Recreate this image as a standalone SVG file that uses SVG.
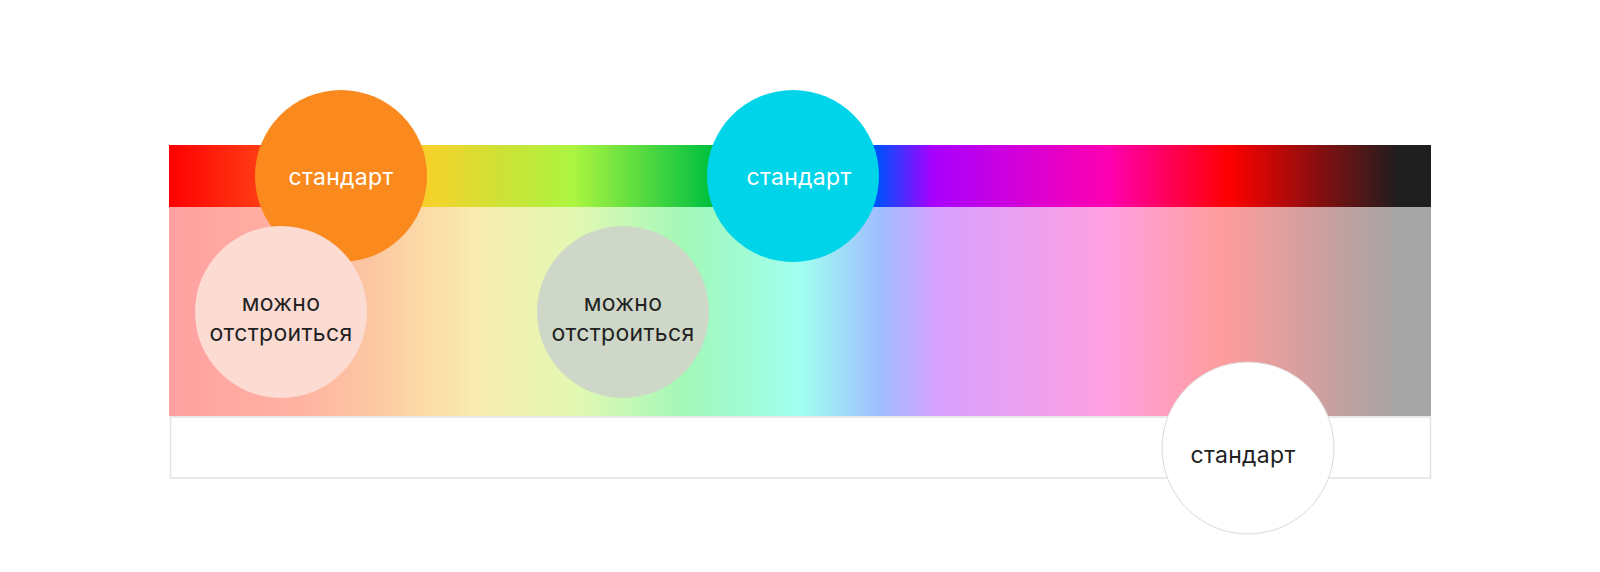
<svg xmlns="http://www.w3.org/2000/svg" width="1600" height="572" viewBox="0 0 1600 572">
<style>
.lbl{font-family:Inter,"Noto Sans",sans-serif;font-size:23px;text-anchor:middle;letter-spacing:0.3px}
.w{fill:#ffffff}
.d{fill:#222222}
</style>
<defs>
<linearGradient id="top" gradientUnits="userSpaceOnUse" x1="169" y1="0" x2="1431" y2="0">
<stop offset="0" stop-color="#ff0000"/>
<stop offset="0.07" stop-color="#ff3a14"/>
<stop offset="0.14" stop-color="#fb8a1e"/>
<stop offset="0.205" stop-color="#f6d22a"/>
<stop offset="0.265" stop-color="#cde236"/>
<stop offset="0.32" stop-color="#acf540"/>
<stop offset="0.43" stop-color="#00c040"/>
<stop offset="0.5" stop-color="#00d7e8"/>
<stop offset="0.562" stop-color="#0050ff"/>
<stop offset="0.605" stop-color="#a800ff"/>
<stop offset="0.745" stop-color="#ff00b0"/>
<stop offset="0.84" stop-color="#ff0000"/>
<stop offset="0.915" stop-color="#801010"/>
<stop offset="0.975" stop-color="#1e1e1e"/>
<stop offset="1" stop-color="#1e1e1e"/>
</linearGradient>
<linearGradient id="bot" gradientUnits="userSpaceOnUse" x1="169" y1="0" x2="1431" y2="0">
<stop offset="0" stop-color="#ffa0a0"/>
<stop offset="0.1" stop-color="#ffb2a2"/>
<stop offset="0.165" stop-color="#fcc8a2"/>
<stop offset="0.215" stop-color="#fbe0a8"/>
<stop offset="0.245" stop-color="#f8ecb0"/>
<stop offset="0.32" stop-color="#e4f8b2"/>
<stop offset="0.41" stop-color="#a2f8b8"/>
<stop offset="0.5" stop-color="#a0fff0"/>
<stop offset="0.565" stop-color="#a0bcff"/>
<stop offset="0.61" stop-color="#d8a0ff"/>
<stop offset="0.745" stop-color="#ffa0e0"/>
<stop offset="0.835" stop-color="#ff9c9c"/>
<stop offset="0.92" stop-color="#c8a0a0"/>
<stop offset="0.975" stop-color="#a5a5a5"/>
<stop offset="1" stop-color="#a5a5a5"/>
</linearGradient>
</defs>
<rect width="1600" height="572" fill="#ffffff"/>
<g id="bars">
<rect x="169" y="145" width="1262" height="62" fill="url(#top)"/>
<rect x="169" y="207" width="1262" height="209" fill="url(#bot)"/>
<rect x="170.5" y="417" width="1260" height="61" fill="#ffffff" stroke="#e2e2e2" stroke-width="1.5"/>
</g>
<g id="connectors"/>
<g id="node-orange">
<circle cx="341" cy="176" r="86" fill="#fb8a1e"/>
<text class="lbl w" x="341" y="185">стандарт</text>
</g>
<g id="node-cyan">
<circle cx="793" cy="176" r="86" fill="#00d4e8"/>
<text class="lbl w" x="799" y="185">стандарт</text>
</g>
<g id="node-pink">
<circle cx="281" cy="312" r="86" fill="#fcdbd3"/>
<text class="lbl d" x="281" y="311">можно</text>
<text class="lbl d" x="281" y="341">отстроиться</text>
</g>
<g id="node-gray">
<circle cx="623" cy="312" r="86" fill="#cfd8c8"/>
<text class="lbl d" x="623" y="311">можно</text>
<text class="lbl d" x="623" y="341">отстроиться</text>
</g>
<g id="node-white">
<circle cx="1248" cy="448" r="86" fill="#ffffff" stroke="#e0d8d8" stroke-width="1"/>
<text class="lbl d" x="1243" y="463">стандарт</text>
</g>
</svg>
